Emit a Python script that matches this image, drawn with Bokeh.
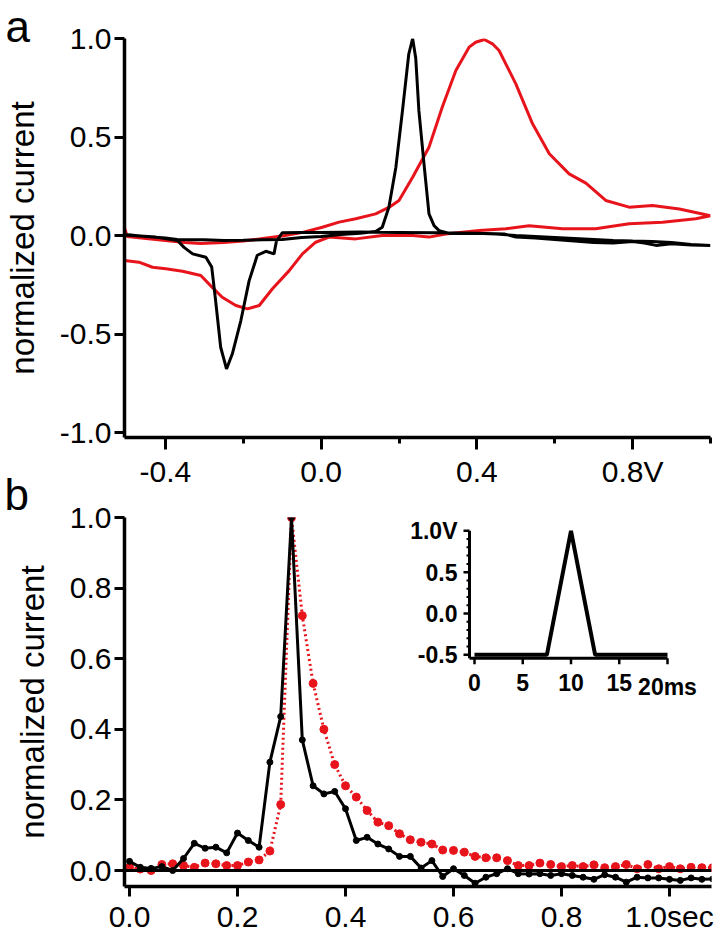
from bokeh.plotting import figure
from bokeh.layouts import column
from bokeh.models import Range1d, FixedTicker, NumeralTickFormatter, Span
from bokeh.embed import file_html
from bokeh.resources import INLINE
from bokeh.core.properties import value

FONT = "Liberation Sans"
RED = "#e8141c"
BLACK = "#000000"

# ---------------- Panel a: cyclic voltammograms (V, normalized current) ----------------
cv_black_v = [-0.505, -0.49, -0.45, -0.40, -0.37, -0.30, -0.25, -0.20, -0.15, -0.10, -0.05, 0.00, 0.05, 0.10,
              0.14, 0.157, 0.174, 0.192, 0.209, 0.225, 0.235, 0.243, 0.251, 0.265, 0.277, 0.29, 0.303, 0.33,
              0.40, 0.47, 0.50, 0.55, 0.60, 0.65, 0.70, 0.75, 0.80, 0.83, 0.86, 0.90, 0.95, 1.00,
              0.95, 0.90, 0.85, 0.80, 0.75, 0.70, 0.65, 0.60, 0.55, 0.50, 0.45, 0.40, 0.30, 0.20, 0.10,
              0.00, -0.05, -0.10, -0.115, -0.121, -0.142, -0.164, -0.185, -0.206, -0.228, -0.243, -0.258,
              -0.271, -0.281, -0.296, -0.33, -0.352, -0.369, -0.425, -0.505]
cv_black_i = [0.0, 0.003, -0.005, -0.012, -0.02, -0.022, -0.025, -0.024, -0.022, -0.02, -0.01, -0.005, 0.005, 0.012,
              0.02, 0.042, 0.144, 0.347, 0.635, 0.92, 1.0, 0.9, 0.635, 0.347, 0.11, 0.05, 0.025, 0.01,
              0.012, 0.008, -0.008, -0.012, -0.02, -0.028, -0.035, -0.038, -0.03, -0.038, -0.05, -0.042, -0.048, -0.05,
              -0.045, -0.035, -0.03, -0.028, -0.025, -0.02, -0.015, -0.01, -0.005, 0.0, 0.008, 0.012, 0.014, 0.016, 0.018,
              0.016, 0.015, 0.014, -0.03, -0.093, -0.08, -0.10, -0.23, -0.43, -0.60, -0.677, -0.567,
              -0.33, -0.16, -0.11, -0.093, -0.06, -0.025, -0.008, 0.003]

cv_red_v = [-0.505, -0.498, -0.45, -0.40, -0.35, -0.31, -0.25, -0.20, -0.15, -0.10, -0.05, 0.003, 0.046, 0.089,
            0.14, 0.175, 0.20, 0.235, 0.277, 0.311, 0.346, 0.38, 0.397, 0.419, 0.44, 0.457, 0.50, 0.543, 0.586,
            0.637, 0.68, 0.731, 0.791, 0.851, 0.92, 1.00,
            0.962, 0.877, 0.791, 0.705, 0.62, 0.534, 0.474, 0.406, 0.32, 0.277, 0.235, 0.157, 0.089, 0.02,
            -0.014, -0.048, -0.082, -0.125, -0.159, -0.189, -0.219, -0.254, -0.284, -0.309, -0.356, -0.399,
            -0.433, -0.468, -0.505]
cv_red_i = [0.04, -0.005, -0.015, -0.025, -0.035, -0.04, -0.035, -0.028, -0.015, -0.002, 0.015, 0.042, 0.068, 0.085,
            0.11, 0.144, 0.178, 0.296, 0.448, 0.651, 0.838, 0.956, 0.981, 0.995, 0.973, 0.939, 0.77, 0.567, 0.415,
            0.313, 0.266, 0.178, 0.144, 0.152, 0.135, 0.10,
            0.085, 0.068, 0.06, 0.034, 0.034, 0.05, 0.034, 0.025, 0.008, -0.008, 0.0, 0.0, -0.017, -0.008,
            -0.034, -0.093, -0.178, -0.27, -0.355, -0.372, -0.355, -0.313, -0.254, -0.203, -0.181, -0.169,
            -0.161, -0.135, -0.127]

a_x_ticks = [-0.4, 0.0, 0.4, 0.8]
a_x_minor = [-0.2, 0.2, 0.6, 1.0]
a_x_labels = {0.8: "0.8V"}
a_y_ticks = [-1.0, -0.5, 0.0, 0.5, 1.0]

# ---------------- Panel b: current vs time ----------------
time_s = [0.00, 0.02, 0.04, 0.06, 0.08, 0.10, 0.12, 0.14, 0.16, 0.18, 0.20, 0.22, 0.24, 0.26, 0.28,
          0.30, 0.32, 0.34, 0.36, 0.38, 0.40, 0.42, 0.44, 0.46, 0.48, 0.50, 0.52, 0.54, 0.56, 0.58,
          0.60, 0.62, 0.64, 0.66, 0.68, 0.70, 0.72, 0.74, 0.76, 0.78, 0.80, 0.82, 0.84, 0.86, 0.88,
          0.90, 0.92, 0.94, 0.96, 0.98, 1.00, 1.02, 1.04, 1.06, 1.08]
black_current = [0.026, 0.009, 0.006, 0.011, 0.0, 0.034, 0.077, 0.063, 0.066, 0.05, 0.106, 0.085, 0.066, 0.307, 0.436,
                 1.0, 0.37, 0.24, 0.217, 0.224, 0.175, 0.085, 0.094, 0.075, 0.061, 0.04, 0.04, 0.007, 0.028, -0.017,
                 0.005, -0.014, -0.036, -0.019, -0.009, 0.005, -0.009, -0.01, -0.009, -0.014, -0.009, -0.014, -0.019,
                 -0.025, -0.012, -0.019, -0.033, -0.019, -0.021, -0.021, -0.025, -0.028, -0.021, -0.025, -0.024]
red_current = [0.009, 0.004, 0.0, 0.017, 0.019, 0.014, 0.009, 0.021, 0.019, 0.014, 0.014, 0.024, 0.03, 0.055, 0.187,
               1.0, 0.722, 0.53, 0.40, 0.30, 0.24, 0.208, 0.17, 0.137, 0.127, 0.104, 0.087, 0.08, 0.075, 0.058,
               0.057, 0.052, 0.04, 0.036, 0.036, 0.028, 0.014, 0.014, 0.021, 0.017, 0.011, 0.014, 0.011,
               0.016, 0.008, 0.011, 0.017, 0.005, 0.017, 0.005, 0.011, 0.005, 0.009, 0.008, 0.008]

b_x_ticks = [0.0, 0.2, 0.4, 0.6, 0.8, 1.0]
b_x_labels = {1.0: "1.0sec"}
b_y_ticks = [0.0, 0.2, 0.4, 0.6, 0.8, 1.0]

# ---------------- Inset: applied waveform ----------------
wave_ms = [0.0, 7.5, 10.0, 12.5, 20.0]
wave_v = [-0.5, -0.5, 1.0, -0.5, -0.5]
inset_x_ticks = [0, 5, 10, 15, 20]
inset_x_labels = ["0", "5", "10", "15", "20ms"]
inset_y_ticks = [-0.5, 0.0, 0.5, 1.0]
inset_y_labels = ["-0.5", "0.0", "0.5", "1.0V"]
inset_y_minor = [-0.4, -0.3, -0.2, -0.1, 0.1, 0.2, 0.3, 0.4, 0.6, 0.7, 0.8, 0.9]

panel_letters = ["a", "b"]

TICK_FONT = "30px"
LABEL_FONT = "33px"
LETTER_PX = 44


def style_axes(p, xt, xminor, xlabels, yt, ylabel, x_tick_out, x_standoff):
    p.grid.visible = False
    p.outline_line_color = None
    for ax in (p.xaxis[0], p.yaxis[0]):
        ax.axis_line_width = 3.5
        ax.major_tick_line_width = 3
        ax.minor_tick_line_width = 3
        ax.major_tick_in = 0
        ax.minor_tick_in = 0
        ax.major_label_text_font = FONT
        ax.major_label_text_font_size = TICK_FONT
        ax.major_label_text_color = BLACK
        ax.axis_line_color = BLACK
        ax.major_tick_line_color = BLACK
        ax.minor_tick_line_color = BLACK
        ax.formatter = NumeralTickFormatter(format="0.0")
    xa, ya = p.xaxis[0], p.yaxis[0]
    xa.ticker = FixedTicker(ticks=xt, minor_ticks=xminor)
    xa.major_tick_out = x_tick_out
    xa.minor_tick_out = 6
    xa.major_label_standoff = x_standoff
    xa.major_label_overrides = xlabels
    ya.ticker = FixedTicker(ticks=yt, minor_ticks=[])
    ya.major_tick_out = 10
    ya.minor_tick_out = 0
    ya.major_label_standoff = 3
    ya.axis_label = ylabel
    ya.axis_label_text_font = FONT
    ya.axis_label_text_font_size = LABEL_FONT
    ya.axis_label_text_font_style = "normal"
    ya.axis_label_text_color = BLACK
    ya.axis_label_standoff = 16


def set_letter(p, letter, frame_left, standoff):
    # panel letter as the figure title, pulled to the canvas' left edge
    t = p.title
    t.text = letter
    t.align = "left"
    t.offset = -(frame_left - 3)
    t.text_font = FONT
    t.text_font_size = f"{LETTER_PX}px"
    t.text_font_style = "normal"
    t.text_color = BLACK
    t.standoff = standoff


# ---------- Panel a ----------
A_LEFT, A_TOP, A_W, A_H = 122, 38, 586, 399
pa = figure(frame_width=A_W, frame_height=A_H, min_border_left=A_LEFT, min_border_right=8,
            min_border_top=A_TOP, min_border_bottom=55,
            x_range=Range1d(-0.505, 1.0), y_range=Range1d(-1.025, 1.0),
            output_backend="svg", toolbar_location=None)
style_axes(pa, a_x_ticks, a_x_minor, a_x_labels, a_y_ticks, "normalized current", 12, 5)
set_letter(pa, panel_letters[0], A_LEFT, -25)
pa.line(cv_red_v, cv_red_i, line_color=RED, line_width=3)
pa.line(cv_black_v, cv_black_i, line_color=BLACK, line_width=3)

# ---------- Panel b ----------
B_LEFT, B_TOP, B_W, B_H = 123, 50, 587, 369
b_sx = 540.0
b_sy = 353.0
b_x0, b_x1 = -5 / b_sx, (B_W - 5) / b_sx
b_y1 = 1.0
b_y0 = 1.0 - B_H / b_sy
pb = figure(frame_width=B_W, frame_height=B_H, min_border_left=B_LEFT, min_border_right=6,
            min_border_top=B_TOP, min_border_bottom=48,
            x_range=Range1d(b_x0, b_x1), y_range=Range1d(b_y0, b_y1),
            output_backend="svg", toolbar_location=None)
pb.border_fill_color = None
pb.background_fill_color = None
style_axes(pb, b_x_ticks, [], b_x_labels, b_y_ticks, "normalized current", 10, 3)
set_letter(pb, panel_letters[1], B_LEFT, -3)
pb.add_layout(Span(location=0, dimension="width", line_color=BLACK, line_width=3))
pb.line(time_s, red_current, line_color=RED, line_width=3, line_dash="2 3")
pb.scatter(time_s, red_current, size=8, color=RED)
pb.line(time_s, black_current, line_color=BLACK, line_width=3)
pb.scatter(time_s, black_current, size=6, color=BLACK)

# ---------- Inset (drawn inside panel b on its own ranges) ----------
ISX = 9.65   # px per ms
ISY = 82.7   # px per V
ox = 350     # px from frame left to inset x=0
oy = 96      # px from frame top to inset y=0
pb.extra_x_ranges = {"ix": Range1d(-ox / ISX, (B_W - ox) / ISX)}
pb.extra_y_ranges = {"iy": Range1d(-(B_H - oy) / ISY, oy / ISY)}
kw = dict(x_range_name="ix", y_range_name="iy")

ax_x = -5 / ISX
ax_y = -0.5 - 3.5 / ISY
ymax = max(inset_y_ticks)
xmax = max(inset_x_ticks)
pb.segment(x0=[ax_x, ax_x], y0=[ax_y, ax_y], x1=[ax_x, xmax], y1=[ymax, ax_y],
           line_color=BLACK, line_width=3, **kw)
pb.segment(x0=[ax_x] * len(inset_y_ticks), y0=inset_y_ticks,
           x1=[ax_x - 6 / ISX] * len(inset_y_ticks), y1=inset_y_ticks,
           line_color=BLACK, line_width=2.5, **kw)
pb.segment(x0=[ax_x] * len(inset_y_minor), y0=inset_y_minor,
           x1=[ax_x - 3 / ISX] * len(inset_y_minor), y1=inset_y_minor,
           line_color=BLACK, line_width=2, **kw)
pb.segment(x0=inset_x_ticks, y0=[ax_y] * len(inset_x_ticks),
           x1=inset_x_ticks, y1=[ax_y - 6 / ISY] * len(inset_x_ticks),
           line_color=BLACK, line_width=2.5, **kw)
pb.text(x=[ax_x - 12 / ISX] * len(inset_y_ticks), y=inset_y_ticks, text=inset_y_labels,
        text_font=value(FONT), text_font_size="23px", text_font_style="bold",
        text_align="right", text_baseline="middle", text_color=BLACK, **kw)
pb.text(x=inset_x_ticks, y=[ax_y - 16 / ISY] * len(inset_x_ticks), text=inset_x_labels,
        text_font=value(FONT), text_font_size="23px", text_font_style="bold",
        text_align="center", text_baseline="top", text_color=BLACK, **kw)
pb.line(wave_ms, wave_v, line_color=BLACK, line_width=4, **kw)

pb.margin = (-25, 0, 0, 0)   # panel b's top border overlaps panel a's bottom border

layout = column(pa, pb, spacing=0)
open("out.html", "w").write(file_html(layout, INLINE))
